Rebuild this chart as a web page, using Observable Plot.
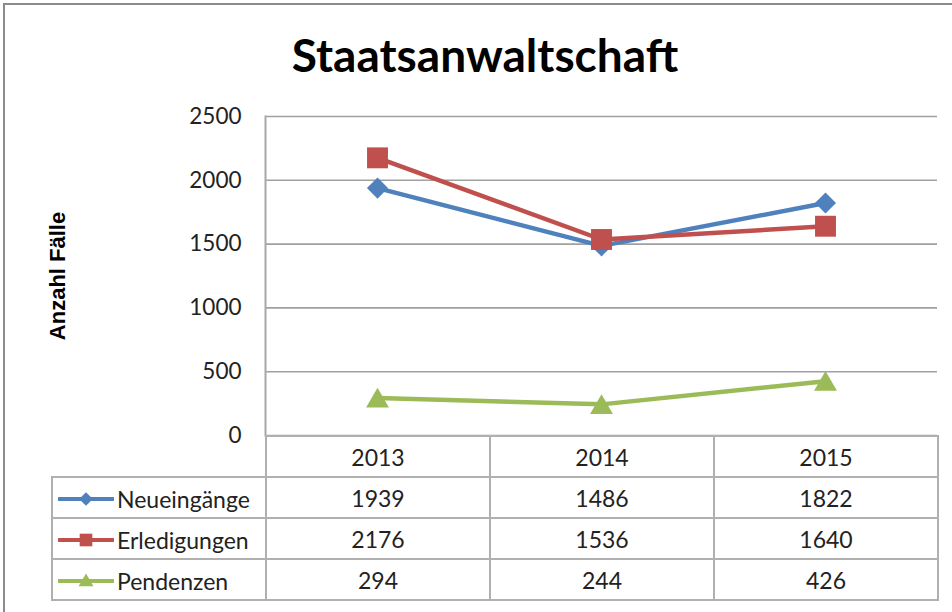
<!DOCTYPE html>
<html><head><meta charset="utf-8">
<script src="https://cdn.jsdelivr.net/npm/d3@7"></script>
<script src="https://cdn.jsdelivr.net/npm/@observablehq/plot@0.6"></script>
<style>
body{margin:0;background:#fff;}
#wrap{position:relative;width:952px;height:612px;overflow:hidden;font-family:Lato,sans-serif;background:#fff;}
#border{position:absolute;left:3px;top:3px;width:1000px;height:700px;border-left:2px solid #8c8c8c;border-top:2px solid #8c8c8c;}
#title{position:absolute;left:0;width:970px;top:27px;text-align:center;font:bold 46px Lato,sans-serif;color:#000;line-height:56px;}
#ylab{position:absolute;left:58px;top:276px;transform:translate(-50%,-50%) rotate(-90deg);font:bold 22px "Liberation Sans",Arial,sans-serif;white-space:nowrap;color:#000;}
#chart{position:absolute;left:0;top:0;}
#tbl{position:absolute;left:51px;top:435px;border-collapse:collapse;table-layout:fixed;width:888px;font:23px Lato,sans-serif;color:#222;}
#tbl td{border:2px solid #b0b0b0;height:39px;text-align:center;padding:0;white-space:nowrap;}
#tbl td.leg{text-align:left;}
#tbl td.corner{border-left:none;border-top:none;}
.leg svg{vertical-align:middle;margin-left:5px;margin-right:3px;}
.leg span{vertical-align:middle;}
</style></head>
<body>
<div id="wrap">
  <div id="border"></div>
  <div id="chart"></div>
  <div id="title">Staatsanwaltschaft</div>
  <div id="ylab">Anzahl Fälle</div>
</div>
<script>
const years = [2013, 2014, 2015];
const seriesNames = ["Neueingänge", "Erledigungen", "Pendenzen"];
const neueingaenge = [1939, 1486, 1822];
const erledigungen = [2176, 1536, 1640];
const pendenzen = [294, 244, 426];
const yTicks = [0, 500, 1000, 1500, 2000, 2500];
const colors = ["#4F81BD", "#C0504D", "#9BBB59"];
const symbols = ["diamond2", "square", "triangle"];

const valuesBySeries = [neueingaenge, erledigungen, pendenzen];
const data = seriesNames.flatMap((s, i) => years.map((y, j) => ({series: s, year: y, value: valuesBySeries[i][j]})));

const chart = Plot.plot({
  width: 952,
  height: 460,
  marginLeft: 265,
  marginRight: 15,
  marginTop: 116,
  marginBottom: 25,
  style: {fontFamily: "Lato, sans-serif", fontSize: "22px", color: "#222", background: "transparent", overflow: "visible"},
  x: {type: "point", domain: years, padding: 0.5, axis: null},
  y: {domain: [0, 2500], ticks: yTicks, axis: null, label: null},
  marks: [
    Plot.ruleY(yTicks, {stroke: "#a0a0a0", strokeWidth: 1.6}),
    Plot.frame({anchor: "left", stroke: "#a8a8a8", strokeWidth: 2}),
    Plot.axisY(yTicks, {tickSize: 0, tickPadding: 24, fontSize: 22.5, fill: "#222", label: null, tickFormat: d => String(d)}),
    Plot.line(data, {x: "year", y: "value", z: "series", stroke: d => colors[seriesNames.indexOf(d.series)], strokeWidth: 4.5, strokeLinejoin: "round"}),
    Plot.dot(data.filter(d => d.series === seriesNames[0]), {x: "year", y: "value", symbol: symbols[0], r: 9.5, fill: colors[0], stroke: "none"}),
    Plot.dot(data.filter(d => d.series === seriesNames[1]), {x: "year", y: "value", symbol: symbols[1], r: 11.8, fill: colors[1], stroke: "none"}),
    Plot.dot(data.filter(d => d.series === seriesNames[2]), {x: "year", y: "value", symbol: symbols[2], r: 8.5, dy: 3, fill: colors[2], stroke: "none"})
  ]
});
document.getElementById("chart").appendChild(chart);

// data table with legend keys
const tbl = d3.select("#wrap").append("table").attr("id", "tbl");
const colgroup = tbl.append("colgroup");
colgroup.append("col").style("width", "214px");
years.forEach(() => colgroup.append("col").style("width", "224px"));
const head = tbl.append("tr");
head.append("td").attr("class", "corner");
years.forEach(y => head.append("td").text(y));
const symGen = {diamond2: d3.symbolDiamond2, square: d3.symbolSquare, triangle: d3.symbolTriangle};
const symSize = {diamond2: 120, square: 160, triangle: 95};
seriesNames.forEach((s, i) => {
  const tr = tbl.append("tr");
  const td = tr.append("td").attr("class", "leg");
  const svg = td.append("svg").attr("width", 56).attr("height", 20);
  svg.append("line").attr("x1", 1).attr("x2", 55).attr("y1", 10).attr("y2", 10)
    .attr("stroke", colors[i]).attr("stroke-width", 4).attr("stroke-linecap", "round");
  svg.append("path").attr("transform", `translate(28,${symbols[i] === "triangle" ? 11 : 10})`)
    .attr("d", d3.symbol(symGen[symbols[i]], symSize[symbols[i]])()).attr("fill", colors[i]);
  td.append("span").text(s);
  valuesBySeries[i].forEach(v => tr.append("td").text(v));
});
</script>
</body></html>
